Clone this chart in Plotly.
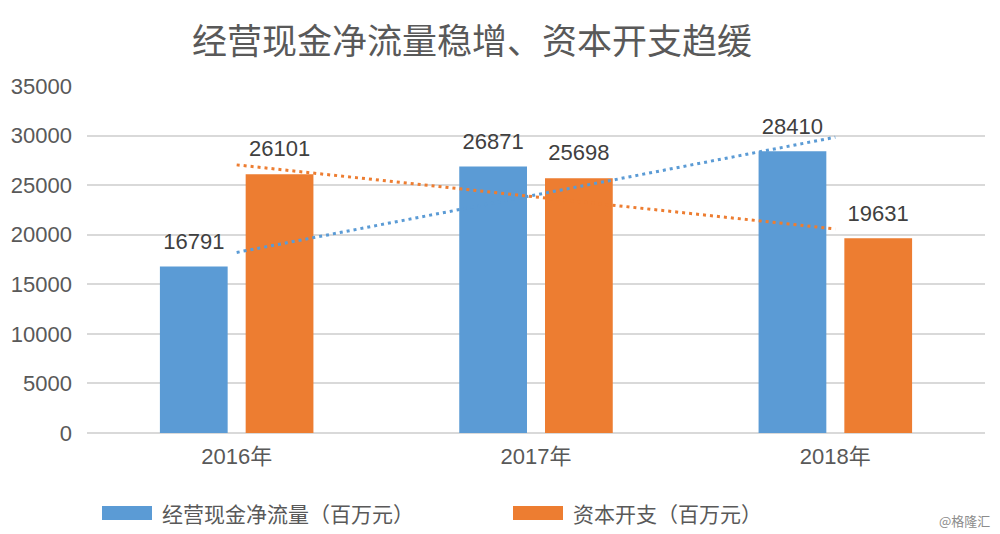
import numpy as np
import plotly.graph_objects as go

categories = ["2016年", "2017年", "2018年"]
cash_flow = [16791, 26871, 28410]
capex = [26101, 25698, 19631]
series_names = ["经营现金净流量（百万元）", "资本开支（百万元）"]
y_ticks = [0, 5000, 10000, 15000, 20000, 25000, 30000, 35000]
title_text = "经营现金净流量稳增、资本开支趋缓"
watermark = "@格隆汇"

BLUE = "#5B9BD5"
ORANGE = "#ED7D31"
FONT = "Liberation Sans, Arial, Noto Sans CJK SC, sans-serif"
CJK = "Noto Sans CJK SC, sans-serif"
GAP = 0.427

xi = np.arange(1, len(categories) + 1)
fit_blue = np.polyval(np.polyfit(xi, cash_flow, 1), xi)
fit_orange = np.polyval(np.polyfit(xi, capex, 1), xi)

fig = go.Figure()
fig.add_trace(go.Bar(x=categories, y=cash_flow, name=series_names[0],
                     marker=dict(color=BLUE, line=dict(width=0))))
fig.add_trace(go.Bar(x=categories, y=capex, name=series_names[1],
                     marker=dict(color=ORANGE, line=dict(width=0))))
# data labels, grouped like the bars
for vals, grp in ((cash_flow, "a"), (capex, "b")):
    fig.add_trace(go.Scatter(x=categories, y=vals, mode="markers+text",
                             offsetgroup=grp, alignmentgroup="lbl",
                             marker=dict(size=18, opacity=0),
                             text=[str(v) for v in vals], textposition="top center",
                             textfont=dict(size=22, color="#404040", family=FONT),
                             cliponaxis=False, hoverinfo="skip", showlegend=False))
# linear trend lines (on an overlaid category axis, one shared group so they stay centred)
for fit, color in ((fit_blue, BLUE), (fit_orange, ORANGE)):
    fig.add_trace(go.Scatter(x=categories, y=fit, mode="lines", xaxis="x2",
                             offsetgroup="trend", alignmentgroup="trend",
                             line=dict(color=color, width=3, dash="3px,4px"),
                             hoverinfo="skip", showlegend=False))

fig.update_layout(
    width=1000, height=534,
    margin=dict(l=87, r=15, t=86, b=101),
    paper_bgcolor="white", plot_bgcolor="white",
    showlegend=False,
    barmode="group", bargap=GAP, bargroupgap=0.21,
    scattermode="group", scattergap=GAP,
    font=dict(family=FONT, color="#595959"),
    title=dict(text=title_text, x=0.472, xanchor="center", xref="container",
               y=1 - 42 / 534, yanchor="middle", yref="container",
               font=dict(size=35, color="#595959", family=CJK)),
    xaxis=dict(type="category", showgrid=False, showline=False, ticks="",
               range=[-0.5, len(categories) - 0.5],
               tickfont=dict(size=22, color="#595959", family=FONT),
               ticklabelstandoff=8),
    xaxis2=dict(type="category", overlaying="x", visible=False,
                categoryorder="array", categoryarray=categories,
                range=[-0.5, len(categories) - 0.5]),
)
fig.update_yaxes(range=[0, 35000], tickvals=y_ticks,
                 ticktext=[str(v) for v in y_ticks], showgrid=True,
                 gridcolor="#D9D9D9", gridwidth=1.5, zeroline=True,
                 zerolinecolor="#D9D9D9", zerolinewidth=1.5, showline=False,
                 ticks="", tickfont=dict(size=22, color="#595959", family=FONT),
                 ticklabelstandoff=14)

# custom legend
legend_items = [(BLUE, series_names[0], 15, 65), (ORANGE, series_names[1], 426, 476)]
for color, label, px0, px1 in legend_items:
    fig.add_shape(type="rect", xref="paper", yref="paper",
                  xsizemode="pixel", ysizemode="pixel", xanchor=0, yanchor=0,
                  x0=px0, x1=px1, y0=-73, y1=-87,
                  fillcolor=color, line=dict(width=0))
    fig.add_annotation(x=0, xref="paper", y=0, yref="paper",
                       xshift=px1 + 8, yshift=-80, xanchor="left", yanchor="middle",
                       text=label, showarrow=False,
                       font=dict(size=21, color="#595959", family=CJK))

fig.add_annotation(x=1, xref="paper", y=0, yref="paper", xshift=7, yshift=-87,
                   xanchor="right", yanchor="middle", text=watermark, showarrow=False,
                   font=dict(size=13, color="#8c8c8c", family=CJK))

fig.write_html("out.html")
